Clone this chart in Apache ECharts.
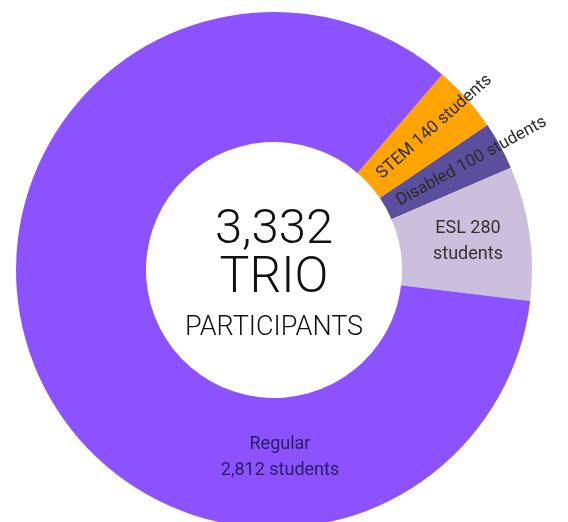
<!DOCTYPE html>
<html><head><meta charset="utf-8">
<script src="https://cdn.jsdelivr.net/npm/echarts@6/dist/echarts.min.js"></script>
<style>html,body{margin:0;padding:0;background:#fff;}#c{width:568px;height:522px;}</style>
</head><body><div id="c"></div>
<script>
const categories = ['STEM', 'Disabled', 'ESL', 'Regular'];
const values = [140, 100, 280, 2812];
const colors = ['#FFA400', '#5B4F9D', '#CCBFDD', '#8C52FF'];
const centerLines = ['TRIO', 'PARTICIPANTS'];
const unit = 'students';

const total = values.reduce((a, b) => a + b, 0);
const fmt = n => n.toLocaleString('en-US');
const CX = 274, CY = 270, R0 = 128, R1 = 258, START = 49.3;

function midAngle(i) {
  let cum = 0;
  for (let k = 0; k < i; k++) cum += values[k];
  return START - (cum + values[i] / 2) / total * 360;
}

const labelFormats = [
  (n, v) => n + ' ' + fmt(v) + ' ' + unit,
  (n, v) => n + ' ' + fmt(v) + ' ' + unit,
  (n, v) => n + ' ' + fmt(v) + '\n' + unit,
  (n, v) => n + '\n' + fmt(v) + ' ' + unit
];
const labelColors = ['#2b2b2b', '#2b2b2b', '#333333', '#2a1d5c'];
const labelSizes = [17, 17, 18, 18];

const chart = echarts.init(document.getElementById('c'), null, { renderer: 'canvas' });
chart.setOption({
  animation: false,
  series: [{
    type: 'pie',
    center: [CX, CY],
    radius: [R0, R1],
    startAngle: START,
    clockwise: true,
    avoidLabelOverlap: false,
    silent: true,
    labelLine: { show: false },
    label: {
      show: true,
      position: 'inside',
      fontFamily: 'Roboto',
      lineHeight: 26,
      formatter: p => labelFormats[p.dataIndex](p.name, p.value)
    },
    labelLayout: function (params) {
      const i = params.dataIndex;
      if (i === 0 || i === 1) {
        const a = midAngle(i);
        const rad = a * Math.PI / 180;
        const rr = R0 + 13;
        return { x: CX + rr * Math.cos(rad), y: CY - rr * Math.sin(rad), align: 'left', verticalAlign: 'middle', rotate: a };
      }
      if (i === 3) {
        return { x: CX + 6, y: CY + 187, align: 'center', verticalAlign: 'middle', rotate: 0 };
      }
      return {};
    },
    data: categories.map((c, i) => ({
      name: c,
      value: values[i],
      itemStyle: { color: colors[i] },
      label: { color: labelColors[i], fontSize: labelSizes[i] }
    }))
  }],
  graphic: [
    { type: 'text', x: CX, y: CY - 39, style: { text: fmt(total), fontFamily: 'Roboto', fontWeight: 300, fontSize: 49, fill: '#111', align: 'center', verticalAlign: 'middle' } },
    { type: 'text', x: CX, y: CY + 9, style: { text: centerLines[0], fontFamily: 'Roboto', fontWeight: 300, fontSize: 50, fill: '#111', align: 'center', verticalAlign: 'middle' } },
    { type: 'text', x: CX, y: CY + 58, style: { text: centerLines[1], fontFamily: 'Roboto', fontWeight: 300, fontSize: 27, fill: '#111', align: 'center', verticalAlign: 'middle' } }
  ]
});
</script>
</body></html>
